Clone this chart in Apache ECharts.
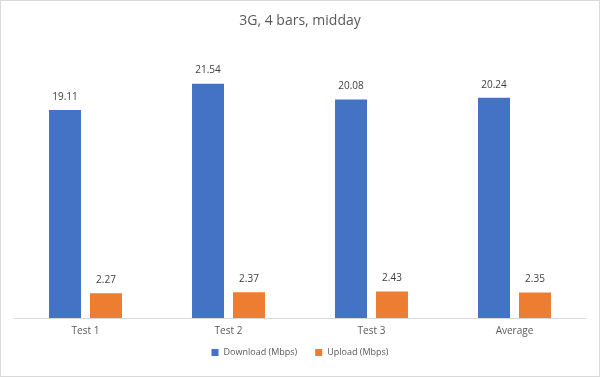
<!DOCTYPE html>
<html>
<head>
<meta charset="utf-8">
<script src="https://cdn.jsdelivr.net/npm/echarts@6/dist/echarts.min.js"></script>
<style>
  html, body { margin: 0; padding: 0; background: #fff; }
  #chart { width: 600px; height: 377px; box-sizing: border-box; border: 1px solid #d9d9d9; }
</style>
</head>
<body>
<div id="chart"></div>
<script>
// chart data
const categories = ['Test 1', 'Test 2', 'Test 3', 'Average']
const download = [19.11, 21.54, 20.08, 20.24]
const upload = [2.27, 2.37, 2.43, 2.35]

const chart = echarts.init(document.getElementById('chart'))
const labelStyle = {
  show: true,
  position: 'top',
  distance: 8,
  color: '#404040',
  fontSize: 10,
  fontFamily: 'Open Sans',
  formatter: p => p.value.toFixed(2)
}
const option = {
  animation: false,
  textStyle: { fontFamily: 'Open Sans' },
  title: {
    text: '3G, 4 bars, midday',
    left: 'center',
    top: 8,
    textStyle: { fontSize: 14, fontWeight: 'normal', color: '#595959', fontFamily: 'Open Sans' }
  },
  legend: {
    bottom: 14,
    itemWidth: 7,
    itemHeight: 7,
    itemGap: 18,
    icon: 'rect',
    textStyle: { fontSize: 9, color: '#595959' },
    data: ['Download (Mbps)', 'Upload (Mbps)']
  },
  grid: { left: 13, right: 13, top: 45, bottom: 58 },
  xAxis: {
    type: 'category',
    data: categories,
    axisTick: { show: false },
    axisLine: { lineStyle: { color: '#d9d9d9' } },
    axisLabel: { color: '#595959', fontSize: 10, margin: 8 }
  },
  yAxis: {
    type: 'value',
    min: 0,
    max: 25,
    show: false,
    splitLine: { show: false }
  },
  series: [
    {
      name: 'Download (Mbps)',
      type: 'bar',
      data: download,
      barWidth: 32,
      barGap: '28%',
      itemStyle: { color: '#4472C4' },
      label: labelStyle
    },
    {
      name: 'Upload (Mbps)',
      type: 'bar',
      data: upload,
      barWidth: 32,
      itemStyle: { color: '#ED7D31' },
      label: labelStyle
    }
  ]
}
chart.setOption(option)
</script>
</body>
</html>
